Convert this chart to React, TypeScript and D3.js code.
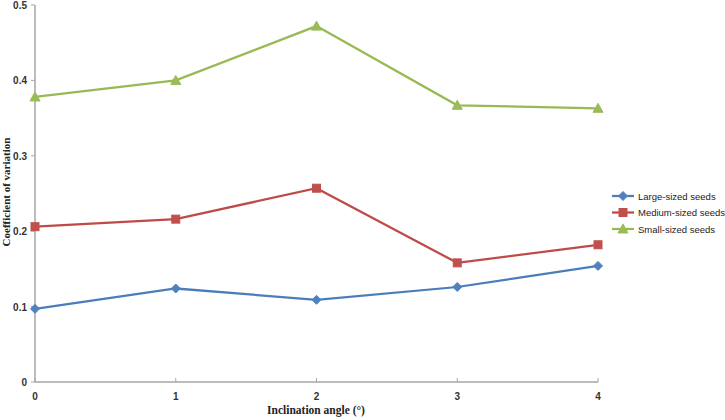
import React, { useRef, useEffect } from 'react';
import * as d3 from 'd3';

const angles = [0, 1, 2, 3, 4];
const largeSeeds = [0.097, 0.124, 0.109, 0.126, 0.154];
const mediumSeeds = [0.206, 0.216, 0.257, 0.158, 0.182];
const smallSeeds = [0.378, 0.400, 0.472, 0.367, 0.363];
const yTicks = [0, 0.1, 0.2, 0.3, 0.4, 0.5];
const seriesNames = ['Large-sized seeds', 'Medium-sized seeds', 'Small-sized seeds'];

const App = () => {
  const chartRef = useRef(null);

  useEffect(() => {
    const svg = d3.select(chartRef.current);
    svg.selectAll('*').remove();

    const x = d3.scaleLinear().domain([0, 4]).range([35, 598]);
    const y = d3.scaleLinear().domain([0, 0.5]).range([382, 5]);

    const series = [
      { name: seriesNames[0], values: largeSeeds, color: '#4A7EBB', fill: '#4F81BD', marker: 'diamond' },
      { name: seriesNames[1], values: mediumSeeds, color: '#BE4B48', fill: '#C0504D', marker: 'square' },
      { name: seriesNames[2], values: smallSeeds, color: '#98B954', fill: '#9BBB59', marker: 'triangle' },
    ];

    // axes
    const axisColor = '#A6A6A6';
    svg.append('line').attr('x1', x(0)).attr('x2', x(0)).attr('y1', y(0.5)).attr('y2', y(0))
      .attr('stroke', axisColor).attr('stroke-width', 1.5);
    svg.append('line').attr('x1', x(0)).attr('x2', x(4)).attr('y1', y(0)).attr('y2', y(0))
      .attr('stroke', axisColor).attr('stroke-width', 1.5);

    yTicks.forEach(t => {
      svg.append('line').attr('x1', x(0) - 4).attr('x2', x(0)).attr('y1', y(t)).attr('y2', y(t))
        .attr('stroke', axisColor);
      svg.append('text').attr('x', 27).attr('y', y(t) + 4).attr('text-anchor', 'end')
        .attr('font-family', 'Liberation Sans, Arial, sans-serif').attr('font-size', 10)
        .attr('font-weight', 'bold').attr('fill', '#333')
        .text(t === 0 ? '0' : String(t));
    });

    angles.forEach(a => {
      svg.append('line').attr('x1', x(a)).attr('x2', x(a)).attr('y1', y(0) - 4).attr('y2', y(0))
        .attr('stroke', axisColor);
      svg.append('text').attr('x', x(a)).attr('y', 400).attr('text-anchor', 'middle')
        .attr('font-family', 'Liberation Sans, Arial, sans-serif').attr('font-size', 10)
        .attr('font-weight', 'bold').attr('fill', '#333')
        .text(String(a));
    });

    // axis titles
    svg.append('text').attr('x', 316).attr('y', 414).attr('text-anchor', 'middle')
      .attr('font-family', 'Liberation Serif, DejaVu Serif, serif').attr('font-size', 11.5)
      .attr('font-weight', 'bold').attr('fill', '#222')
      .text('Inclination angle (°)');
    svg.append('text').attr('transform', 'translate(10,192) rotate(-90)').attr('text-anchor', 'middle')
      .attr('font-family', 'Liberation Serif, DejaVu Serif, serif').attr('font-size', 11)
      .attr('font-weight', 'bold').attr('fill', '#222')
      .text('Coefficient of variation');

    const line = d3.line<number>().x((d, i) => x(angles[i])).y(d => y(d));

    const drawMarker = (g, kind, cx, cy, fill) => {
      if (kind === 'diamond') {
        g.append('path').attr('d', `M${cx},${cy - 4.5}L${cx + 4.5},${cy}L${cx},${cy + 4.5}L${cx - 4.5},${cy}Z`)
          .attr('fill', fill).attr('stroke', fill);
      } else if (kind === 'square') {
        g.append('rect').attr('x', cx - 4).attr('y', cy - 4).attr('width', 8).attr('height', 8)
          .attr('fill', fill).attr('stroke', fill);
      } else {
        g.append('path').attr('d', `M${cx},${cy - 5}L${cx + 5},${cy + 4}L${cx - 5},${cy + 4}Z`)
          .attr('fill', fill).attr('stroke', fill);
      }
    };

    series.forEach(s => {
      const g = svg.append('g');
      g.append('path').datum(s.values).attr('d', line).attr('fill', 'none')
        .attr('stroke', s.color).attr('stroke-width', 2.25);
      s.values.forEach((v, i) => drawMarker(g, s.marker, x(angles[i]), y(v), s.fill));
    });

    // legend
    series.forEach((s, i) => {
      const ly = 196 + i * 16.5;
      const g = svg.append('g');
      g.append('line').attr('x1', 612).attr('x2', 634).attr('y1', ly).attr('y2', ly)
        .attr('stroke', s.color).attr('stroke-width', 2.25);
      drawMarker(g, s.marker, 623, ly, s.fill);
      g.append('text').attr('x', 638).attr('y', ly + 3.5)
        .attr('font-family', 'Liberation Sans, Arial, sans-serif').attr('font-size', 9.5)
        .attr('fill', '#222').text(s.name);
    });
  }, []);

  return (
    <svg ref={chartRef} width="725" height="420"
      style={{ position: 'absolute', left: 0, top: 0, background: '#fff' }}></svg>
  );
};

export default App;
